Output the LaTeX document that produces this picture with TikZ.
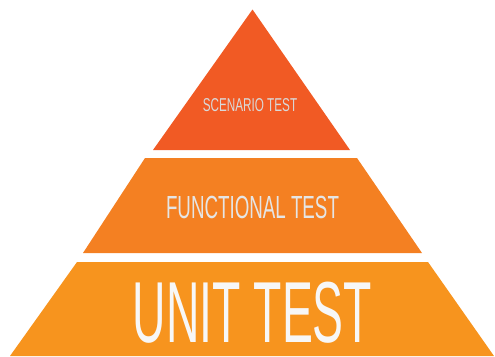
\documentclass[tikz,border=0pt]{standalone}
\usepackage{fontspec}
\setmainfont{Liberation Sans}
\usepackage{graphicx}
\definecolor{scenariocol}{RGB}{241,90,36}
\definecolor{functionalcol}{RGB}{244,128,34}
\definecolor{unitcol}{RGB}{247,148,30}
\newcommand{\Narrow}[3]{\scalebox{#1}[1]{\fontsize{#2}{#2}\selectfont #3}}
\tikzset{
  layer/.style={fill=#1, draw=none},
  lbl/.style={anchor=base, inner sep=0pt, text depth=0pt, text=#1},
}

\begin{document}
\begin{tikzpicture}[x=1pt, y=-1pt]
    \useasboundingbox (0,0) rectangle (495,356);

    \coordinate (apex) at (252.5,9.5);
    \coordinate (sl) at (153,150);
    \coordinate (sr) at (350,150);
    \coordinate (ftl) at (145,158);
    \coordinate (ftr) at (357,158);
    \coordinate (fbr) at (422,253);
    \coordinate (fbl) at (83,253);
    \coordinate (utl) at (77,262);
    \coordinate (utr) at (428,262);
    \coordinate (ubr) at (494,356);
    \coordinate (ubl) at (10,356);

    \fill[layer=scenariocol] (apex) -- (sr) -- (sl) -- cycle;
    \fill[layer=functionalcol] (ftl) -- (ftr) -- (fbr) -- (fbl) -- cycle;
    \fill[layer=unitcol] (utl) -- (utr) -- (ubr) -- (ubl) -- cycle;

    \node[lbl=black!15] (scenario) at (250,111.7) {\Narrow{0.63}{18.6}{SCENARIO TEST}};
    \node[lbl=black!10] (functional) at (252.5,218) {\Narrow{0.586}{32}{FUNCTIONAL TEST}};
    \node[lbl=black!3] (unit) at (252.5,342) {\Narrow{0.535}{86.6}{UNIT TEST}};
  \end{tikzpicture}
\end{document}
